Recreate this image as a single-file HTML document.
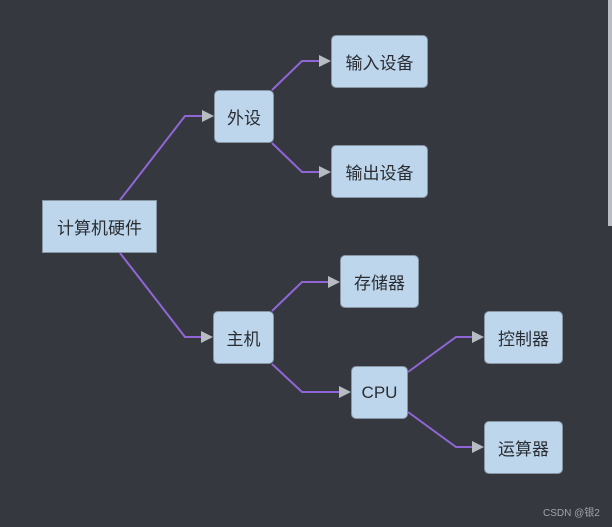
<!DOCTYPE html>
<html><head><meta charset="utf-8"><style>
html,body{margin:0;padding:0}
body{width:612px;height:527px;background:#363840;position:relative;overflow:hidden;font-family:"Liberation Sans","Noto Sans CJK SC",sans-serif}
.n{position:absolute;box-sizing:border-box;background:#bdd6eb;border:1px solid #8796a4;border-radius:5px;display:flex;align-items:center;justify-content:center;font-size:17px;color:#2a2d33}
svg{position:absolute;left:0;top:0}
</style></head><body>
<svg width="612" height="527">
<g fill="none" stroke="#9066d6" stroke-width="2">
<polyline points="120,200 185,116 202,116"/>
<polyline points="120,253 185,337 201,337"/>
<polyline points="272,90 302,61 319,61"/>
<polyline points="272,143 302,172 319,172"/>
<polyline points="272,311 302,282 328,282"/>
<polyline points="272,364 302,392 339,392"/>
<polyline points="408,372 456,337 472,337"/>
<polyline points="408,412 456,447 472,447"/>
</g>
<g fill="#b7bcc2">
<polygon points="202,110 214,116 202,122"/>
<polygon points="201,331 213,337 201,343"/>
<polygon points="319,55 331,61 319,67"/>
<polygon points="319,166 331,172 319,178"/>
<polygon points="328,276 340,282 328,288"/>
<polygon points="339,386 351,392 339,398"/>
<polygon points="472,331 484,337 472,343"/>
<polygon points="472,441 484,447 472,453"/>
</g>
<rect x="608" y="0" width="4" height="226" fill="#b9bcc2"/>
</svg>
<div class="n" style="left:42px;top:200px;width:115px;height:53px;border-radius:0">计算机硬件</div>
<div class="n" style="left:214px;top:90px;width:60px;height:53px">外设</div>
<div class="n" style="left:331px;top:35px;width:97px;height:53px">输入设备</div>
<div class="n" style="left:331px;top:145px;width:97px;height:53px">输出设备</div>
<div class="n" style="left:213px;top:311px;width:61px;height:53px">主机</div>
<div class="n" style="left:340px;top:255px;width:79px;height:53px">存储器</div>
<div class="n" style="left:351px;top:366px;width:57px;height:53px">CPU</div>
<div class="n" style="left:484px;top:311px;width:79px;height:53px">控制器</div>
<div class="n" style="left:484px;top:421px;width:79px;height:53px">运算器</div>
<div style="position:absolute;left:543px;top:504px;font-size:10px;color:#a0a4aa">CSDN @银2</div>
</body></html>
